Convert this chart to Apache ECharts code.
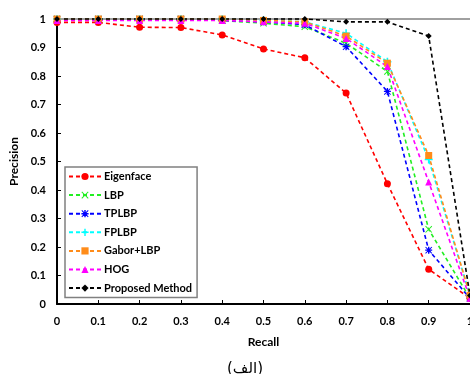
<!DOCTYPE html>
<html><head><meta charset="utf-8">
<script src="https://cdn.jsdelivr.net/npm/echarts@6/dist/echarts.min.js"></script>
<style>html,body{margin:0;padding:0;background:#fff}#c{width:470px;height:374px}</style>
</head><body><div id="c"></div>
<script>
var recall = [0, 0.1, 0.2, 0.3, 0.4, 0.5, 0.6, 0.7, 0.8, 0.9, 1];
var yTicks = [0, 0.1, 0.2, 0.3, 0.4, 0.5, 0.6, 0.7, 0.8, 0.9, 1];
var names = ['Eigenface', 'LBP', 'TPLBP', 'FPLBP', 'Gabor+LBP', 'HOG', 'Proposed Method'];
var eigenface = [0.988, 0.988, 0.971, 0.970, 0.944, 0.895, 0.864, 0.740, 0.422, 0.122, 0.02];
var lbp       = [1.0, 1.0, 1.0, 1.0, 0.995, 0.985, 0.973, 0.915, 0.816, 0.262, 0.02];
var tplbp     = [1.0, 1.0, 1.0, 1.0, 0.995, 0.99, 0.98, 0.903, 0.746, 0.189, 0.02];
var fplbp     = [1.0, 1.0, 1.0, 1.0, 1.0, 0.995, 0.99, 0.95, 0.85, 0.507, 0.03];
var gaborLbp  = [1.0, 1.0, 1.0, 1.0, 1.0, 0.995, 0.99, 0.94, 0.845, 0.521, 0.03];
var hog       = [0.995, 0.995, 0.995, 0.995, 0.995, 0.99, 0.985, 0.932, 0.833, 0.428, 0.02];
var proposed  = [1.0, 1.0, 1.0, 1.0, 1.0, 1.0, 1.0, 0.99, 0.99, 0.94, 0.03];

var colors = ['#ff0000', '#22ee22', '#0000ff', '#00ffff', '#ff8c1a', '#ff00ff', '#000000'];
var symX = 'path://M0,1L1,0L5,4L9,0L10,1L6,5L10,9L9,10L5,6L1,10L0,9L4,5Z';
var symPlus = 'path://M4,0H6V4H10V6H6V10H4V6H0V4H4Z';
var symStar = 'path://M0,1L1,0L5,4L9,0L10,1L6,5L10,9L9,10L5,6L1,10L0,9L4,5ZM4,0H6V4H10V6H6V10H4V6H0V4H4Z';
var symbols = ['circle', symX, symStar, symPlus, 'rect', 'triangle', 'diamond'];
var sizes = [7, 7, 7, 8, 7, 7, 6];
var allData = [eigenface, lbp, tplbp, fplbp, gaborLbp, hog, proposed];

var series = names.map(function (n, i) {
  return {
    name: n, type: 'line',
    data: recall.map(function (r, j) { return [r, allData[i][j]]; }),
    symbol: symbols[i], symbolSize: sizes[i], showAllSymbol: true,
    lineStyle: { color: colors[i], width: 1.6, type: [4, 3] },
    itemStyle: { color: colors[i] },
    clip: false, animation: false
  };
});

var fmt = function (v) { return String(Math.round(v * 10) / 10); };
var chart = echarts.init(document.getElementById('c'), null, { renderer: 'canvas' });
chart.setOption({
  animation: false,
  backgroundColor: '#fff',
  grid: { left: 57, right: 0, top: 19, bottom: 70, containLabel: false, outerBoundsMode: 'none' },
  title: {
    text: '(الف)', left: 240, top: 357, textAlign: 'center',
    textStyle: { fontFamily: 'DejaVu Sans', fontSize: 15, fontWeight: 'normal', color: '#000' }
  },
  legend: {
    orient: 'vertical', left: 65, top: 167,
    data: names,
    itemWidth: 32, itemHeight: 9, itemGap: 7.6,
    padding: [4, 5, 4, 3],
    borderColor: '#808080', borderWidth: 1.5,
    textStyle: { fontFamily: 'Lato', fontWeight: 'bold', fontSize: 11, color: '#000', padding: [0, 0, 0, -2] }
  },
  xAxis: [{
    type: 'value', min: 0, max: 1, interval: 0.1,
    name: 'Recall', nameLocation: 'middle', nameGap: 32,
    nameTextStyle: { fontFamily: 'Lato', fontWeight: 'bold', fontSize: 12, color: '#000' },
    axisLine: { lineStyle: { color: '#000', width: 2 } },
    axisTick: { inside: true, length: 4, lineStyle: { color: '#000' } },
    axisLabel: { formatter: fmt, margin: 12, fontFamily: 'Lato', fontWeight: 'bold', fontSize: 11, color: '#000' },
    splitLine: { show: false }
  }, {
    type: 'value', position: 'top', min: 0, max: 1,
    axisLine: { show: true, lineStyle: { color: '#a0a0a0', width: 2 } },
    axisTick: { show: false }, axisLabel: { show: false }, splitLine: { show: false }
  }],
  yAxis: {
    type: 'value', min: 0, max: 1, interval: 0.1,
    name: 'Precision', nameLocation: 'middle', nameGap: 34, nameRotate: 90,
    nameTextStyle: { fontFamily: 'Lato', fontWeight: 'bold', fontSize: 12, color: '#000' },
    axisLine: { show: true, lineStyle: { color: '#000', width: 2 } },
    axisTick: { show: true, inside: true, length: 4, lineStyle: { color: '#000' } },
    axisLabel: { formatter: fmt, margin: 11, fontFamily: 'Lato', fontWeight: 'bold', fontSize: 11, color: '#000' },
    splitLine: { show: false }
  },
  series: series
});
</script></body></html>
